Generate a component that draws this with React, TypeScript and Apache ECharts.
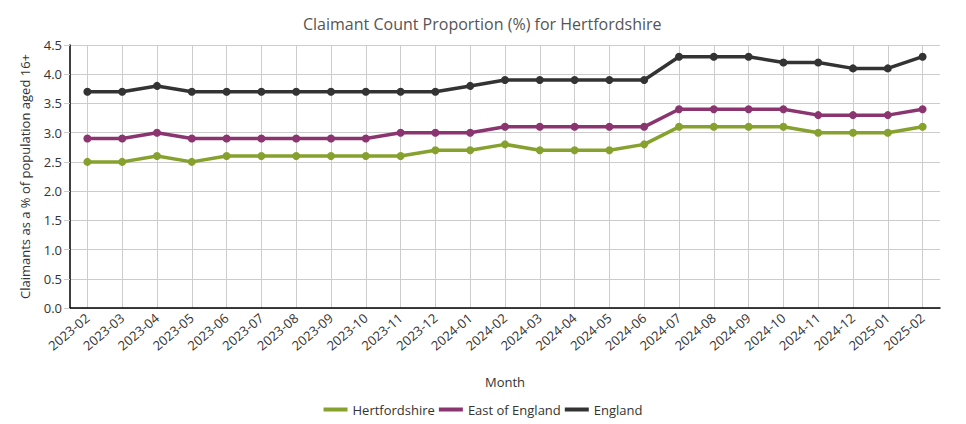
import { useEffect, useRef } from "react";
import * as echarts from "echarts";

const months = [
  "2023-02", "2023-03", "2023-04", "2023-05", "2023-06", "2023-07", "2023-08",
  "2023-09", "2023-10", "2023-11", "2023-12", "2024-01", "2024-02", "2024-03",
  "2024-04", "2024-05", "2024-06", "2024-07", "2024-08", "2024-09", "2024-10",
  "2024-11", "2024-12", "2025-01", "2025-02",
];

const hertfordshire = [
  2.5, 2.5, 2.6, 2.5, 2.6, 2.6, 2.6, 2.6, 2.6, 2.6, 2.7, 2.7, 2.8,
  2.7, 2.7, 2.7, 2.8, 3.1, 3.1, 3.1, 3.1, 3.0, 3.0, 3.0, 3.1,
];
const eastOfEngland = [
  2.9, 2.9, 3.0, 2.9, 2.9, 2.9, 2.9, 2.9, 2.9, 3.0, 3.0, 3.0, 3.1,
  3.1, 3.1, 3.1, 3.1, 3.4, 3.4, 3.4, 3.4, 3.3, 3.3, 3.3, 3.4,
];
const england = [
  3.7, 3.7, 3.8, 3.7, 3.7, 3.7, 3.7, 3.7, 3.7, 3.7, 3.7, 3.8, 3.9,
  3.9, 3.9, 3.9, 3.9, 4.3, 4.3, 4.3, 4.2, 4.2, 4.1, 4.1, 4.3,
];

const seriesNames = ["Hertfordshire", "East of England", "England"];
const seriesColors = ["#86a12d", "#8b3570", "#333333"];

const font = "'Open Sans', 'Noto Sans', sans-serif";

export default function App() {
  // 图表容器
  const chartRef = useRef<HTMLDivElement>(null);

  useEffect(() => {
    if (!chartRef.current) return;
    const chart = echarts.init(chartRef.current, undefined, { renderer: "svg" });

    const makeSeries = (name: string, data: number[], color: string) => ({
      name,
      type: "line",
      data,
      symbol: "circle",
      symbolSize: 8,
      lineStyle: { width: 3.5, color },
      itemStyle: { color },
    });

    chart.setOption({
      animation: false,
      textStyle: { fontFamily: font },
      title: {
        text: "Claimant Count Proportion (%) for Hertfordshire",
        left: 290,
        top: 3,
        textStyle: { fontSize: 16, fontWeight: "normal", color: "#555", fontFamily: font },
      },
      grid: { left: 62, right: 18, top: 37, bottom: 116 },
      legend: {
        bottom: 3,
        left: "center",
        itemWidth: 24,
        itemHeight: 4,
        itemGap: 4,
        icon: "rect",
        textStyle: { fontSize: 13, color: "#333", fontFamily: font },
        data: seriesNames,
      },
      xAxis: {
        type: "category",
        data: months,
        name: "Month",
        nameLocation: "middle",
        nameGap: 67,
        nameTextStyle: { fontSize: 13, color: "#333" },
        axisLine: { lineStyle: { color: "#000", width: 1.5 } },
        axisTick: { alignWithLabel: true, length: 6, lineStyle: { color: "#ccc" } },
        axisLabel: { rotate: 40, fontSize: 13, color: "#333", margin: 8 },
        splitLine: { show: true, alignWithLabel: true, lineStyle: { color: "#ccc" } },
      },
      yAxis: {
        type: "value",
        min: 0,
        max: 4.5,
        interval: 0.5,
        name: "Claimants as a % of population aged 16+",
        nameLocation: "middle",
        nameGap: 39,
        nameTextStyle: { fontSize: 13, color: "#333" },
        axisLine: { show: true, lineStyle: { color: "#000", width: 1.5 } },
        axisTick: { show: true, length: 6, lineStyle: { color: "#ccc" } },
        axisLabel: {
          fontSize: 13,
          color: "#333",
          margin: 8,
          formatter: (v: number) => v.toFixed(1),
        },
        splitLine: { lineStyle: { color: "#ccc" } },
      },
      series: [
        makeSeries(seriesNames[0], hertfordshire, seriesColors[0]),
        makeSeries(seriesNames[1], eastOfEngland, seriesColors[1]),
        makeSeries(seriesNames[2], england, seriesColors[2]),
      ],
    });

    const handleResize = () => chart.resize();
    window.addEventListener("resize", handleResize);
    return () => {
      window.removeEventListener("resize", handleResize);
      chart.dispose();
    };
  }, []);

  return <div ref={chartRef} style={{ width: "950px", height: "416px" }}></div>;
}
